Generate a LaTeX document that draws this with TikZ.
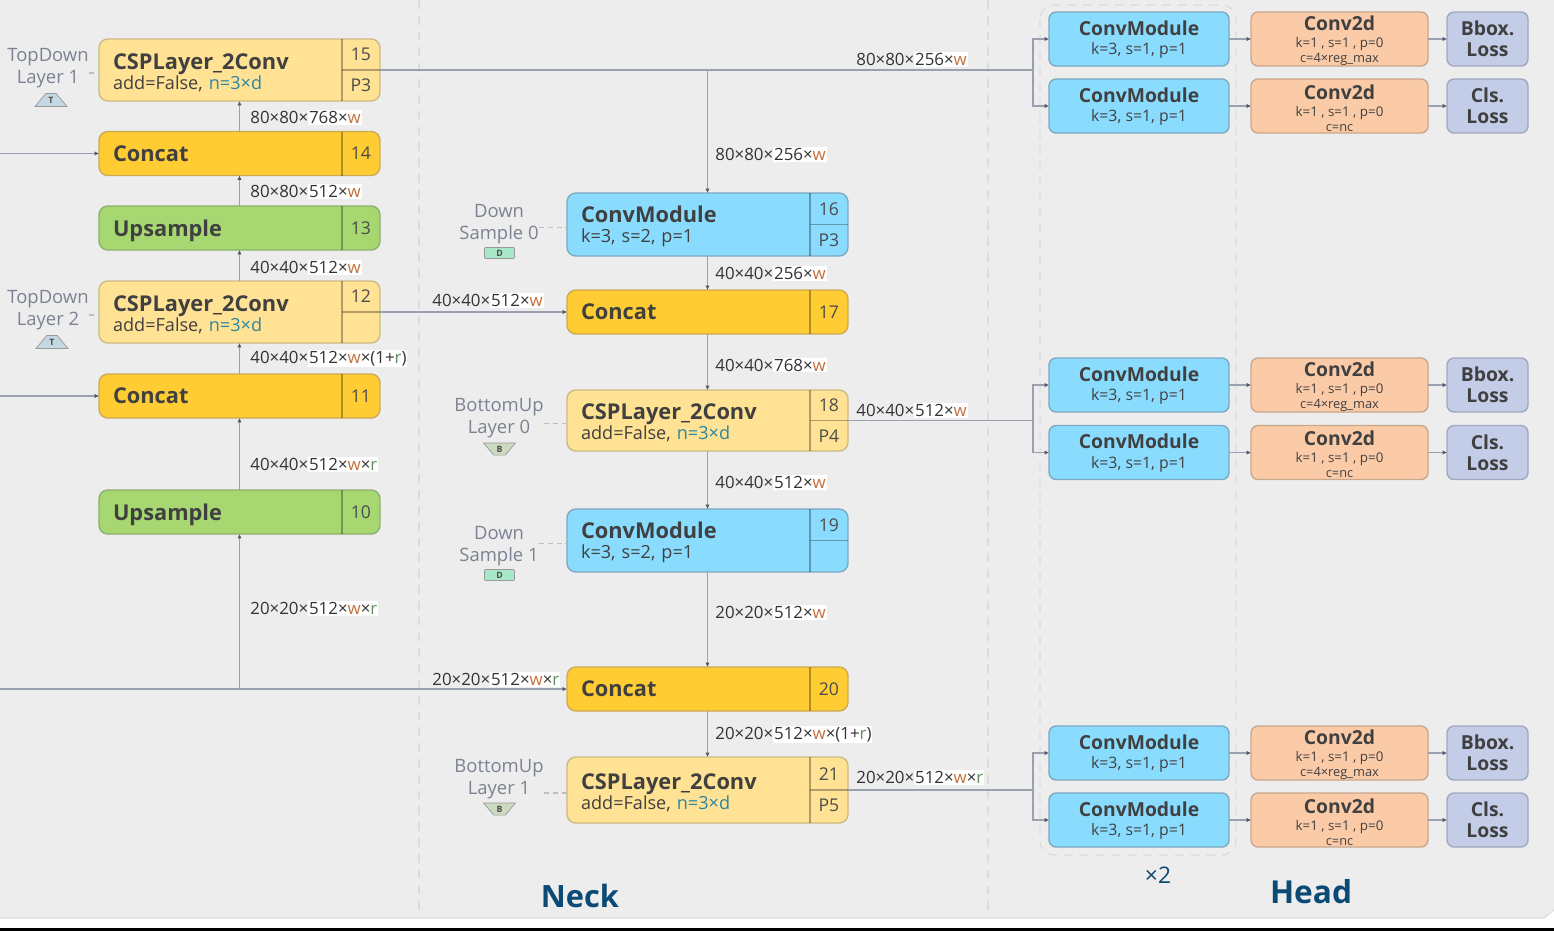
\documentclass[tikz,border=0pt]{standalone}
\usepackage{fontspec}
\setmainfont{Open Sans}
\usepackage{xcolor}
\usetikzlibrary{shapes.geometric, arrows.meta, positioning, calc}
\definecolor{bgcol}{HTML}{EDEDED}
\definecolor{linecol}{HTML}{9AA0AE}
\definecolor{tipcol}{HTML}{4F5666}
\definecolor{dashcol}{HTML}{DCDCDC}
\definecolor{sidecol}{HTML}{7B8291}
\definecolor{cspfill}{HTML}{FFE294}
\definecolor{cspline}{HTML}{CDB983}
\definecolor{catfill}{HTML}{FFCC33}
\definecolor{catline}{HTML}{CDAA55}
\definecolor{upfill}{HTML}{A6D770}
\definecolor{upline}{HTML}{8DB070}
\definecolor{cmfill}{HTML}{8ADCFF}
\definecolor{cmline}{HTML}{7CA9C0}
\definecolor{cvfill}{HTML}{FBCBA8}
\definecolor{cvline}{HTML}{C9A78D}
\definecolor{lsfill}{HTML}{C3CDE8}
\definecolor{lsline}{HTML}{A0A8BF}
\definecolor{dnfill}{HTML}{A8E8C8}
\definecolor{wcol}{HTML}{C4703A}
\definecolor{rcol}{HTML}{5F8F5F}
\definecolor{ncol}{HTML}{2E86A0}
\definecolor{headcol}{HTML}{0B4A75}
\setlength{\fboxsep}{0.5pt}
\newcommand{\wv}{\textcolor{wcol}{w}}
\newcommand{\rv}{\textcolor{rcol}{r}}
\newcommand{\dimtext}[2]{#1\colorbox{white}{#2}}
\newcommand{\titlefont}{\fontsize{12.4}{15}\selectfont\bfseries}
\newcommand{\subfont}{\fontsize{10.3}{12.5}\selectfont}
\newcommand{\nfactor}{\textcolor{ncol}{n=3×d}}
\newcommand{\cmtext}{\rule{0pt}{9pt}\fontsize{11}{12.5}\selectfont\bfseries ConvModule\\[-0.9pt]\fontsize{9}{10}\selectfont k=3, s=1, p=1}
\newcommand{\cvtitle}{\rule{0pt}{10.7pt}\fontsize{11}{11}\selectfont\bfseries Conv2d\\[-2.5pt]\fontsize{7.6}{8.5}\selectfont k=1 , s=1 , p=0\\[-3.4pt]\fontsize{7.3}{7.5}\selectfont}
\newcommand{\cellsplit}[3]{%
  \draw[cellline] ($(#1.north east)+(-38,0)$) -- ($(#1.south east)+(-38,0)$);
  \draw[cellline] ($(#1.east)+(-38,0)$) -- (#1.east);
  \node[numtext] (#1num) at ($(#1.east)+(-19,-15.5)$) {#2};
  \node[numtext] (#1port) at ($(#1.east)+(-19,15.5)$) {#3};
}
\newcommand{\cellsingle}[2]{%
  \draw[cellline] ($(#1.north east)+(-38,0)$) -- ($(#1.south east)+(-38,0)$);
  \node[numtext] (#1num) at ($(#1.east)+(-19,0)$) {#2};
}
\tikzset{
  block/.style={rectangle, rounded corners=5pt, line width=0.8pt, minimum width=5.62cm,
    text width=5.06cm, inner xsep=0.28cm, inner ysep=0pt, outer sep=0pt, align=left,
    font=\subfont, text=black!75},
  head/.style={rectangle, rounded corners=4pt, line width=0.8pt, minimum height=1.08cm,
    inner sep=0pt, outer sep=0pt, align=center, text=black!75},
  numtext/.style={inner sep=0pt, font=\fontsize{10}{12}\selectfont, text=black!70},
  cellline/.style={line width=0.7pt, draw=black, draw opacity=0.3},
  link/.style={line width=0.65pt, draw=linecol},
  arrow/.style={link, -{Latex[length=2.5pt, width=2.5pt, color=tipcol]}},
  dimlabel/.style={anchor=west, inner sep=0pt, font=\fontsize{9.6}{11}\selectfont, text=black!80},
  sidelabel/.style={inner sep=0pt, align=center, font=\fontsize{10.5}{12.5}\selectfont, text=sidecol},
  stub/.style={line width=0.6pt, draw=black!25, dash pattern=on 3pt off 2pt},
  sepline/.style={line width=0.7pt, draw=dashcol, dash pattern=on 5pt off 4pt},
  tagfont/.style={inner sep=0pt, outer sep=0pt, line width=0.4pt, draw=black!40,
    font=\fontsize{5}{5}\selectfont\bfseries, text=black!70},
  toptag/.style={tagfont, trapezium, trapezium angle=50, minimum height=0.2cm, minimum width=0.64cm, fill=cmline!45},
  bottag/.style={tagfont, trapezium, trapezium angle=50, minimum height=0.2cm, minimum width=0.64cm,
    shape border rotate=180, fill=upline!45},
  dntag/.style={tagfont, rectangle, rounded corners=0.5pt, minimum height=0.22cm, minimum width=0.6cm, fill=dnfill},
}
\begin{document}
\begin{tikzpicture}[x=0.02cm, y=-0.02cm]
  \useasboundingbox (0,0) rectangle (1554,931);
  % Background
  \fill[white] (0,0) rectangle (1554,931);
  \fill[bgcol] (0,0) -- (1554,0) -- (1554,910) -- (1544,918) -- (0,918) -- cycle;
  \draw[black!12, line width=0.8pt] (1554,910) -- (1544,918) -- (0,918);
  \fill[black] (0,928) rectangle (1554,931);

  % Separators
  \draw[sepline] (419,0) -- (419,917);
  \draw[sepline] (988,0) -- (988,917);
  \draw[sepline, rounded corners=8pt] (1040,5) rectangle (1236,855);

  % CSP blocks
  \foreach \n/\x/\y/\h/\p in {15/239.5/70/62/P3, 12/239.5/312/62/, 18/707.5/420.5/61/P4, 21/707.5/790/66/P5} {
    \node[block, fill=cspfill, draw=cspline, minimum height=\h*0.02cm] (c\n) at (\x,\y)
      {\rule{0pt}{11.7pt}{\titlefont CSPLayer\_2Conv}\\[-1.1pt]add=False, \nfactor};
    \cellsplit{c\n}{\n}{\p}
  }
  % ConvModule blocks
  \foreach \n/\y/\p in {16/224.5/P3, 19/540.5/} {
    \node[block, fill=cmfill, draw=cmline, minimum height=63*0.02cm] (c\n) at (707.5,\y)
      {\rule{0pt}{11.7pt}{\titlefont ConvModule}\\[-1.1pt]k=3, s=2, p=1};
    \cellsplit{c\n}{\n}{\p}
  }
  % Concat blocks
  \foreach \n/\x/\y in {14/239.5/153.5, 11/239.5/396, 17/707.5/312, 20/707.5/689} {
    \node[block, fill=catfill, draw=catline, minimum height=44*0.02cm, text depth=0pt] (c\n) at (\x,\y)
      {\titlefont Concat};
    \cellsingle{c\n}{\n}
  }
  % Upsample blocks
  \foreach \n/\y in {13/228, 10/512} {
    \node[block, fill=upfill, draw=upline, minimum height=44*0.02cm, text depth=0pt] (c\n) at (239.5,\y)
      {\titlefont Upsample};
    \cellsingle{c\n}{\n}
  }

  % Side labels
  \foreach \n/\x/\y/\txt in {15/48/68.5/{TopDown\\Layer 1}, 12/48/310.5/{TopDown\\Layer 2},
      16/499/224.5/{Down\\Sample 0}, 18/499/418.5/{BottomUp\\Layer 0},
      19/499/546.5/{Down\\Sample 1}, 21/499/779/{BottomUp\\Layer 1}} {
    \node[sidelabel] (lab\n) at (\x,\y) {\txt};
    \coordinate (st\n) at ($(c\n.west)+(0,3)$);
    \draw[stub] (lab\n.east |- st\n) -- (st\n);
  }
  \node[toptag] (tag15) at (51,100) {T};
  \node[toptag] (tag12) at (52,342) {T};
  \node[dntag] (tag16) at (499.5,253) {D};
  \node[bottag] (tag18) at (499.5,449) {B};
  \node[dntag] (tag19) at (499.5,575) {D};
  \node[bottag] (tag21) at (499.5,809) {B};

  % Head
  \foreach \r/\y in {0/39, 2/385, 4/753} {
    \node[head, fill=cmfill, draw=cmline, minimum width=3.6cm] (cm\r) at (1139,\y) {\cmtext};
    \node[head, fill=cvfill, draw=cvline, minimum width=3.54cm] (cv\r) at (1339.5,\y)
      {\cvtitle c=4×reg\_max};
    \node[head, fill=lsfill, draw=lsline, minimum width=1.62cm] (ls\r) at (1487.5,\y)
      {\fontsize{11}{12.5}\selectfont\bfseries Bbox.\\\fontsize{11}{12.5}\selectfont\bfseries Loss};
    \draw[arrow] (cm\r) -- (cv\r);
    \draw[arrow] (cv\r) -- (ls\r);
  }
  \foreach \r/\y in {1/106, 3/452.5, 5/820} {
    \node[head, fill=cmfill, draw=cmline, minimum width=3.6cm] (cm\r) at (1139,\y) {\cmtext};
    \node[head, fill=cvfill, draw=cvline, minimum width=3.54cm] (cv\r) at (1339.5,\y)
      {\cvtitle c=nc};
    \node[head, fill=lsfill, draw=lsline, minimum width=1.62cm] (ls\r) at (1487.5,\y)
      {\fontsize{11}{12.5}\selectfont\bfseries Cls.\\\fontsize{11}{12.5}\selectfont\bfseries Loss};
    \draw[arrow] (cm\r) -- (cv\r);
    \draw[arrow] (cv\r) -- (ls\r);
  }

  % Free ends and junctions
  \coordinate (in14) at (0,153.5);
  \coordinate (in11) at (0,396);
  \coordinate (in20) at (0,689);
  \coordinate (j20) at (c10.south |- in20);
  \coordinate (j16) at (c16.north |- c15.east);
  \coordinate (bus0) at (1033,70);
  \coordinate (bus1) at (1033,420.5);
  \coordinate (bus2) at (1033,790);

  % Left column
  \draw[arrow] (in14) -- (c14.west);
  \draw[arrow] (in11) -- (c11.west);
  \draw[arrow] (c14.north) -- (c15.south);
  \draw[arrow] (c13.north) -- (c14.south);
  \draw[arrow] (c12.north) -- (c13.south);
  \draw[arrow] (c11.north) -- (c12.south);
  \draw[arrow] (c10.north) -- (c11.south);
  \draw[arrow] (j20) -- (c10.south);
  \draw[arrow] (in20) -- (c20.west);
  \draw[arrow] (c12.east) -- (c17.west);

  % Centre column
  \draw[arrow] (j16) -- (c16.north);
  \draw[arrow] (c16.south) -- (c17.north);
  \draw[arrow] (c17.south) -- (c18.north);
  \draw[arrow] (c18.south) -- (c19.north);
  \draw[arrow] (c19.south) -- (c20.north);
  \draw[arrow] (c20.south) -- (c21.north);

  % To the head
  \draw[link] (c15.east) -- (bus0);
  \draw[link] (c18.east) -- (bus1);
  \draw[link] (c21.east) -- (bus2);
  \draw[arrow] (bus0) |- (cm0.west);
  \draw[arrow] (bus0) |- (cm1.west);
  \draw[arrow] (bus1) |- (cm2.west);
  \draw[arrow] (bus1) |- (cm3.west);
  \draw[arrow] (bus2) |- (cm4.west);
  \draw[arrow] (bus2) |- (cm5.west);

  % Size labels
  \node[dimlabel] (d15) at (250,117.5) {\dimtext{80×80×}{768×\wv}};
  \node[dimlabel] (d14) at (250,191.5) {\dimtext{80×80×}{512×\wv}};
  \node[dimlabel] (d13) at (250,267.5) {\dimtext{40×40×}{512×\wv}};
  \node[dimlabel] (d12) at (250,358.5) {\dimtext{40×40×}{512×\wv×(1+\rv)}};
  \node[dimlabel] (d11) at (250,464.5) {\dimtext{40×40×}{512×\wv×\rv}};
  \node[dimlabel] (d10) at (250,608.5) {\dimtext{20×20×}{512×\wv×\rv}};
  \node[dimlabel] (d16) at (715,154.5) {\dimtext{80×80×}{256×\wv}};
  \node[dimlabel] (d17) at (715,273.5) {\dimtext{40×40×}{256×\wv}};
  \node[dimlabel] (d18) at (715,365) {\dimtext{40×40×}{768×\wv}};
  \node[dimlabel] (d19) at (715,482.5) {\dimtext{40×40×}{512×\wv}};
  \node[dimlabel] (d20) at (715,612.5) {\dimtext{20×20×}{512×\wv}};
  \node[dimlabel] (d21) at (715,734.5) {\dimtext{20×20×}{512×\wv×(1+\rv)}};
  \node[dimlabel] (o15) at (856,59.5) {\dimtext{80×80×}{256×\wv}};
  \node[dimlabel] (o12) at (432,300.5) {\dimtext{40×40×}{512×\wv}};
  \node[dimlabel] (o18) at (856,410.5) {\dimtext{40×40×}{512×\wv}};
  \node[dimlabel] (i20) at (432,679.5) {\dimtext{20×20×}{512×\wv×\rv}};
  \node[dimlabel] (o21) at (856,777.5) {\dimtext{20×20×}{512×\wv×\rv}};

  % Titles
  \node[font=\fontsize{17.5}{20}\selectfont\bfseries, text=headcol] (neck) at (580,896) {Neck};
  \node[font=\fontsize{18}{20}\selectfont\bfseries, text=headcol] (headtitle) at (1311,892) {Head};
  \node[font=\fontsize{13}{15}\selectfont, text=headcol] (times) at (1158,875) {×2};
\end{tikzpicture}
\end{document}
